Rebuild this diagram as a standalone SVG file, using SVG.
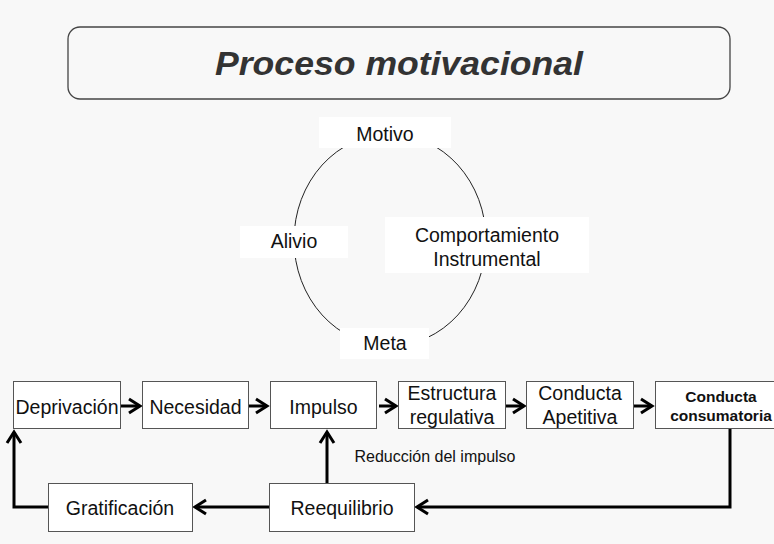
<svg xmlns="http://www.w3.org/2000/svg" width="774" height="544" viewBox="0 0 774 544">
<style>
text{font-family:"Liberation Sans",Arial,Helvetica,sans-serif;fill:#111;text-anchor:middle}
.t{font-size:19.5px}
.s{font-size:16px}
.b{font-size:15.5px;font-weight:bold}
.box{fill:#fff;stroke:#555;stroke-width:1}
.lbl{fill:#fff;stroke:none}
.c{fill:none;stroke:#000;stroke-width:3}
</style>
<defs>
<marker id="ah" viewBox="-14 -10 18 20" refX="0" refY="0" markerWidth="18" markerHeight="20" markerUnits="userSpaceOnUse" orient="auto">
<path d="M-11,-7 L0,0 L-11,7" fill="none" stroke="#000" stroke-width="3"/>
</marker>
</defs>
<rect x="0" y="0" width="774" height="544" fill="#f8f8f8"/>
<g id="title">
<rect x="68" y="27" width="662" height="72" rx="12" ry="12" fill="#f8f8f8" stroke="#444" stroke-width="1.3"/>
<text x="399" y="75" style="font-size:34px;font-weight:bold;font-style:italic;fill:#333" textLength="368" lengthAdjust="spacingAndGlyphs">Proceso motivacional</text>
</g>
<ellipse cx="390" cy="240" rx="96" ry="106" fill="none" stroke="#222" stroke-width="1"/>
<g id="motivo"><rect class="lbl" x="319" y="117" width="132" height="31"/><text class="t" x="385" y="141">Motivo</text></g>
<g id="alivio"><rect class="lbl" x="240" y="226" width="108" height="32"/><text class="t" x="294" y="248">Alivio</text></g>
<g id="comportamiento"><rect class="lbl" x="385" y="217" width="204" height="56"/><text class="t" x="487" y="242">Comportamiento</text><text class="t" x="487" y="266">Instrumental</text></g>
<g id="meta"><rect class="lbl" x="340" y="328" width="89" height="31"/><text class="t" x="385" y="350">Meta</text></g>
<g id="connectors">
<path class="c" d="M121,406 H140" marker-end="url(#ah)"/>
<path class="c" d="M248,406 H267" marker-end="url(#ah)"/>
<path class="c" d="M379,406 H396" marker-end="url(#ah)"/>
<path class="c" d="M506,406 H524" marker-end="url(#ah)"/>
<path class="c" d="M633,406 H652" marker-end="url(#ah)"/>
<path class="c" d="M730,429 V507 H417" marker-end="url(#ah)"/>
<path class="c" d="M269,507 H195" marker-end="url(#ah)"/>
<path class="c" d="M327,483 V432" marker-end="url(#ah)"/>
<path class="c" d="M48,507 H14 V432" marker-end="url(#ah)"/>
</g>
<g id="deprivacion"><rect class="box" x="13.5" y="381.5" width="107" height="47"/><text class="t" x="67" y="414">Deprivación</text></g>
<g id="necesidad"><rect class="box" x="142.5" y="381.5" width="106" height="47"/><text class="t" x="195.5" y="414">Necesidad</text></g>
<g id="impulso"><rect class="box" x="270.5" y="381.5" width="106" height="47"/><text class="t" x="323.5" y="414">Impulso</text></g>
<g id="estructura"><rect class="box" x="398.5" y="381.5" width="107" height="47"/><text class="t" x="452" y="400">Estructura</text><text class="t" x="452" y="424">regulativa</text></g>
<g id="apetitiva"><rect class="box" x="526.5" y="381.5" width="107" height="47"/><text class="t" x="580" y="400">Conducta</text><text class="t" x="580" y="424">Apetitiva</text></g>
<g id="consumatoria"><rect class="box" x="655.5" y="381.5" width="130" height="47"/><text class="b" x="721" y="402">Conducta</text><text class="b" x="721" y="421">consumatoria</text></g>
<g id="gratificacion"><rect class="box" x="48.5" y="483.5" width="144" height="48"/><text class="t" x="120" y="515">Gratificación</text></g>
<g id="reequilibrio"><rect class="box" x="269.5" y="483.5" width="145" height="48"/><text class="t" x="342" y="515">Reequilibrio</text></g>
<text class="s" x="435" y="462">Reducción del impulso</text>
</svg>
